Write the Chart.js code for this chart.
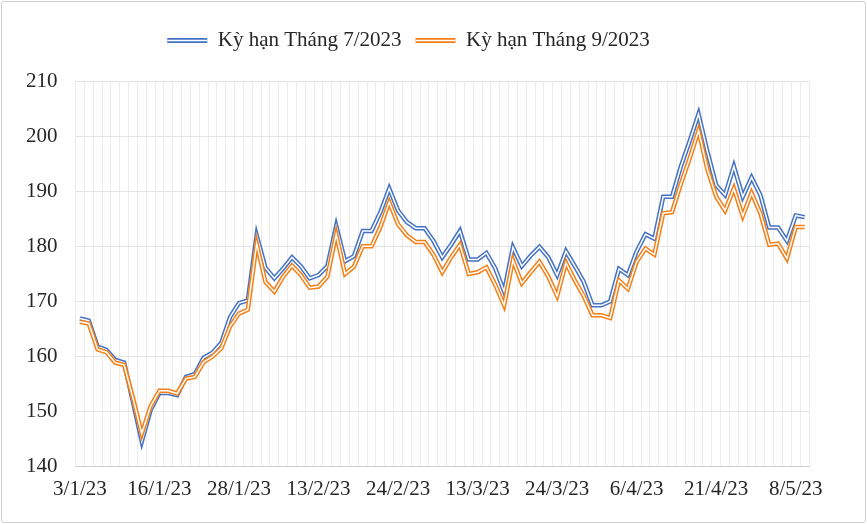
<!DOCTYPE html>
<html><head><meta charset="utf-8">
<script src="https://cdn.jsdelivr.net/npm/chart.js@4"></script>
<style>
html,body{margin:0;padding:0;background:#fff;}
#wrap{position:absolute;left:1px;top:1px;width:863px;height:520px;border:1px solid #d0d0d0;border-radius:3px;}
</style></head><body>
<div id="wrap"><canvas id="c" width="863" height="520"></canvas></div>
<script>
const tickDates = ['3/1/23','16/1/23','28/1/23','13/2/23','24/2/23','13/3/23','24/3/23','6/4/23','21/4/23','8/5/23'];
const july = [166.9,166.5,161.8,161.2,159.4,158.9,151.8,144.6,150.3,153.4,153.4,153.0,156.3,156.8,159.8,160.7,162.5,167.2,169.7,170.2,182.0,176.1,174.2,176.0,178.0,176.4,174.2,174.8,176.4,183.7,177.3,178.2,182.8,182.8,186.2,190.5,186.5,184.4,183.3,183.3,181.0,178.0,180.3,182.8,177.6,177.6,178.8,176.0,171.8,179.8,176.4,178.3,179.9,178.0,174.8,179.1,176.4,173.6,169.3,169.3,170.0,175.9,174.8,179.1,182.2,181.4,189.0,189.0,194.5,199.1,204.0,197.2,191.1,189.3,194.5,189.0,192.5,189.3,183.4,183.4,181.0,185.6,185.3];
const september = [166.3,166.0,161.3,160.8,158.9,158.5,152.5,146.0,151.0,153.8,153.8,153.3,156.0,156.3,159.0,160.0,161.5,165.5,167.8,168.5,180.5,173.5,171.8,174.5,176.5,174.8,172.5,172.7,174.5,182.2,175.0,176.3,180.0,180.0,183.5,188.0,184.0,182.0,180.8,180.8,178.5,175.3,178.0,180.3,175.0,175.3,176.2,173.0,169.3,177.5,173.3,175.3,177.2,174.5,171.0,177.0,173.8,171.0,167.5,167.5,167.0,173.8,172.3,177.2,179.6,178.5,186.0,186.2,191.3,196.0,201.0,194.0,189.0,186.5,190.5,185.5,189.7,186.0,180.3,180.5,177.8,183.5,183.5];
const labels = july.map((_, i) => (i % 9 === 0 && tickDates[i / 9]) ? tickDates[i / 9] : '');
const BLUE = '#4472C4', ORANGE = '#F57F17';
const font = {family: "'Liberation Serif', serif", size: 21};

const doubleLegend = {
  id: 'doubleLegend',
  beforeInit(chart) {
    const lg = chart.legend;
    if (lg) { const f = lg.fit; lg.fit = function() { f.call(this); this.height += 20; }; }
  },
  afterDraw(chart) {
    const lg = chart.legend; if (!lg || !lg.legendHitBoxes) return;
    const ctx = chart.ctx; ctx.save();
    ctx.strokeStyle = '#fff'; ctx.lineWidth = 1.5;
    lg.legendHitBoxes.forEach(b => {
      const y = b.top + b.height / 2;
      ctx.beginPath(); ctx.moveTo(b.left, y); ctx.lineTo(b.left + 40, y); ctx.stroke();
    });
    ctx.restore();
  }
};

new Chart(document.getElementById('c'), {
  type: 'line',
  data: {
    labels: labels,
    datasets: [
      {label: 'Kỳ hạn Tháng 7/2023', data: july, borderColor: BLUE, backgroundColor: BLUE, borderWidth: 4.5, pointRadius: 0, tension: 0, order: 3},
      {label: '_w7', data: july, borderColor: '#fff', borderWidth: 1.5, pointRadius: 0, tension: 0, order: 2},
      {label: 'Kỳ hạn Tháng 9/2023', data: september, borderColor: ORANGE, backgroundColor: ORANGE, borderWidth: 4.5, pointRadius: 0, tension: 0, order: 1},
      {label: '_w9', data: september, borderColor: '#fff', borderWidth: 1.5, pointRadius: 0, tension: 0, order: 0}
    ]
  },
  options: {
    responsive: false, animation: false,
    layout: {padding: {left: 6, right: 56, top: 14, bottom: 10}},
    plugins: {
      legend: {
        position: 'top',
        labels: {
          filter: item => !item.text.startsWith('_'),
          sort: (a, b) => a.datasetIndex - b.datasetIndex,
          boxWidth: 40, boxHeight: 5, font: font, color: '#262626', padding: 14,
          generateLabels: chart => Chart.defaults.plugins.legend.labels.generateLabels(chart).map(it => Object.assign(it, {lineWidth: 0}))
        }
      },
      tooltip: {enabled: false}
    },
    scales: {
      x: {
        offset: true,
        grid: {offset: true, color: '#ececec', drawTicks: false},
        border: {color: '#d0d0d0'},
        ticks: {autoSkip: false, maxRotation: 0, font: font, color: '#262626', padding: 10,
          callback: function(v, i) { return labels[i]; }}
      },
      y: {
        min: 140, max: 210,
        grid: {color: '#e4e4e4', drawTicks: false},
        border: {display: false},
        ticks: {stepSize: 10, font: font, color: '#262626', padding: 18}
      }
    }
  },
  plugins: [doubleLegend]
});
</script></body></html>
